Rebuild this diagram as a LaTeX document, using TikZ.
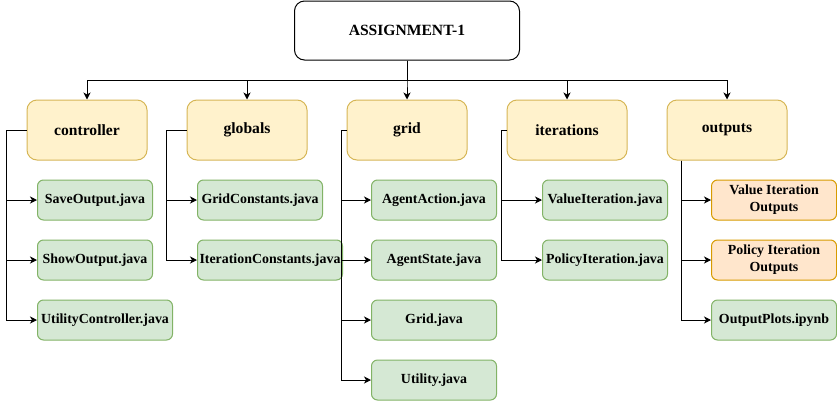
\documentclass[tikz,border=0pt]{standalone}
\usepackage{fontspec}
\setmainfont{Liberation Serif}
\usetikzlibrary{arrows.meta}
\definecolor{yfill}{HTML}{FFF2CC}
\definecolor{ydraw}{HTML}{D6B656}
\definecolor{gfill}{HTML}{D5E8D4}
\definecolor{gdraw}{HTML}{82B366}
\definecolor{ofill}{HTML}{FFE6CC}
\definecolor{odraw}{HTML}{D79B00}
\tikzset{
  titlebox/.style={draw=black, fill=white, rounded corners=10pt, line width=1pt,
    minimum width=225pt, minimum height=59pt, inner sep=0pt,
    font=\fontsize{15.6}{18}\selectfont\bfseries},
  folder/.style={draw=ydraw, fill=yfill, rounded corners=10pt, line width=1pt,
    minimum width=120pt, minimum height=60pt, inner sep=0pt,
    font=\fontsize{15.6}{18}\selectfont\bfseries},
  filebox/.style={draw=gdraw, fill=gfill, rounded corners=6pt, line width=1pt,
    minimum height=40pt, inner sep=0pt, anchor=west, align=center,
    font=\fontsize{13.9}{17}\selectfont\bfseries},
  outbox/.style={filebox, draw=odraw, fill=ofill},
  arr/.style={draw=black, line width=1pt, -{Stealth[length=7pt,width=7pt,inset=2pt]}},
  ln/.style={draw=black, line width=1pt}
}
\begin{document}
\begin{tikzpicture}[x=1pt,y=-1pt]
\useasboundingbox (0,0) rectangle (837,402);
% title
\node[titlebox] (title) at (407,30.5) {ASSIGNMENT-1};
% folders
\node[folder] (ctrl) at (87,130) {controller};
\node[folder] (glob) at (247,130) {globals};
\node[folder] (grid) at (407,130) {grid};
\node[folder] (iter) at (567,130) {iterations};
\node[folder] (outs) at (727,130) {outputs};
% files
\node[filebox, minimum width=115pt] (c1) at (37,200) {SaveOutput.java};
\node[filebox, minimum width=115pt] (c2) at (37,260) {ShowOutput.java};
\node[filebox, minimum width=135pt] (c3) at (37,320) {UtilityController.java};
\node[filebox, minimum width=125pt] (g1) at (197,200) {GridConstants.java};
\node[filebox, minimum width=145pt] (g2) at (197,260) {IterationConstants.java};
\node[filebox, minimum width=125pt] (r1) at (371,200) {AgentAction.java};
\node[filebox, minimum width=125pt] (r2) at (371,260) {AgentState.java};
\node[filebox, minimum width=125pt] (r3) at (371,320) {Grid.java};
\node[filebox, minimum width=125pt] (r4) at (371,380) {Utility.java};
\node[filebox, minimum width=125pt] (i1) at (542,200) {ValueIteration.java};
\node[filebox, minimum width=125pt] (i2) at (542,260) {PolicyIteration.java};
\node[outbox, minimum width=125pt] (o1) at (711,200) {Value Iteration\\Outputs};
\node[outbox, minimum width=125pt] (o2) at (711,260) {Policy Iteration\\Outputs};
\node[filebox, minimum width=125pt] (o3) at (711,320) {OutputPlots.ipynb};
% title to folders
\foreach \f in {ctrl,glob,grid,iter,outs}
  \draw[arr] (title.south) -- ++(0,19.5) -| (\f.north);
% controller
\foreach \c in {c1,c2,c3}
  \draw[arr] (ctrl.west) -- ++(-20,0) |- (\c.west);
% globals
\foreach \c in {g1,g2}
  \draw[arr] (glob.west) -- ++(-20,0) |- (\c.west);
% grid
\foreach \c in {r1,r2,r3,r4}
  \draw[arr] (grid.west) -- ++(-5.5,0) |- (\c.west);
% iterations
\foreach \c in {i1,i2}
  \draw[arr] (iter.west) -- ++(-5.5,0) |- (\c.west);
% outputs
\coordinate (ob) at ([xshift=-45.3pt]outs.south);
\foreach \c in {o1,o2,o3}
  \draw[arr] (ob) |- (\c.west);
\end{tikzpicture}
\end{document}
